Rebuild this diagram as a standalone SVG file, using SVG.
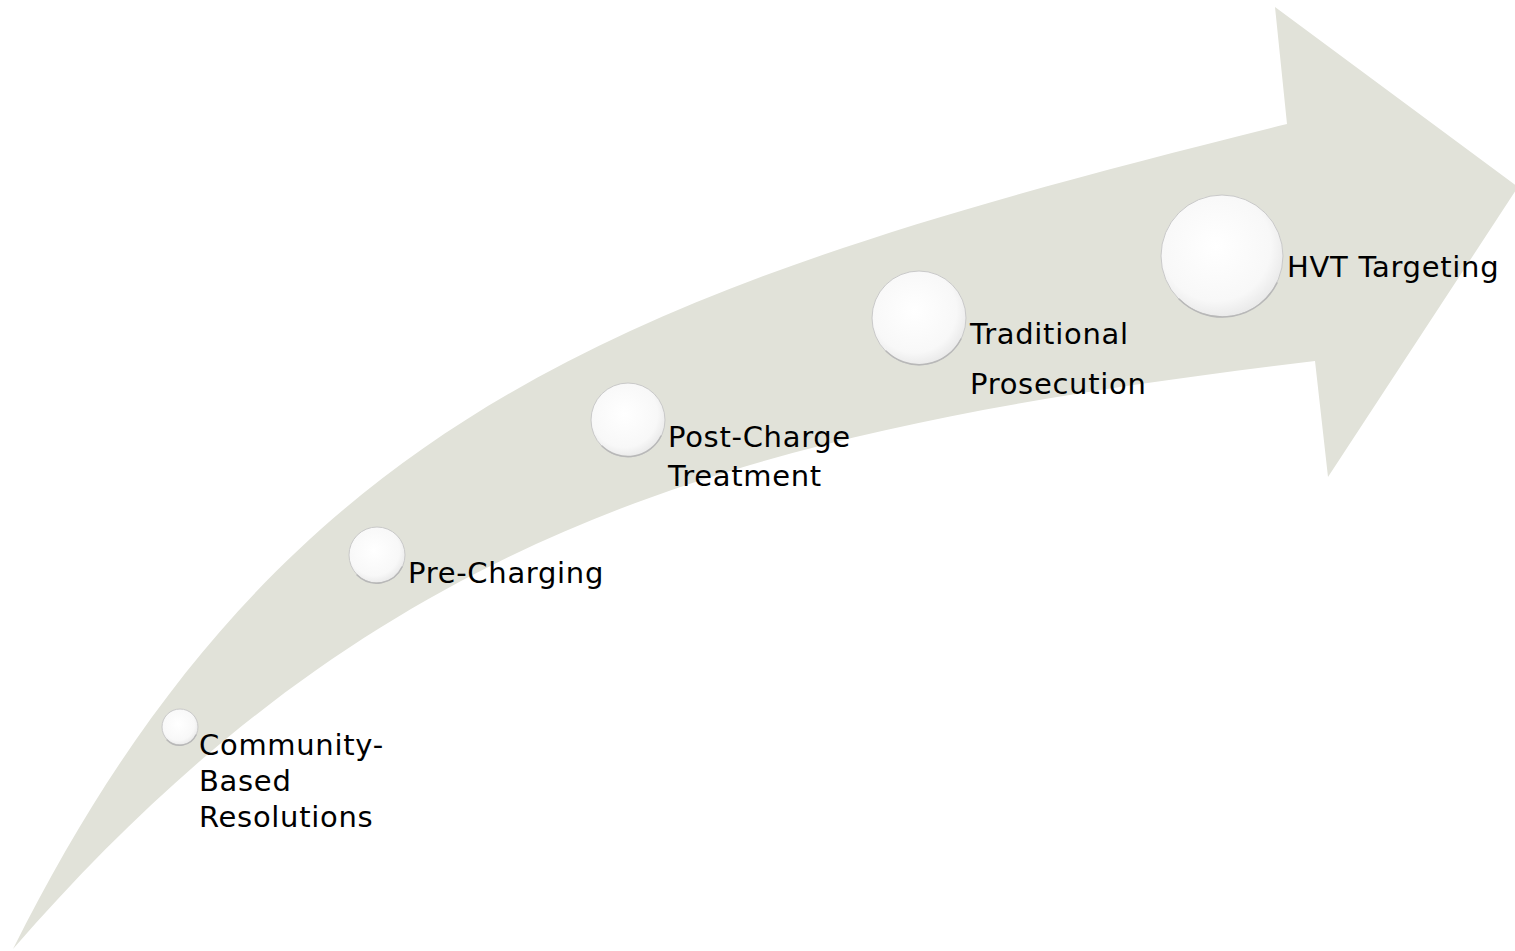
<svg xmlns="http://www.w3.org/2000/svg" width="1515" height="951" viewBox="0 0 1515 951">
  <defs>
    <radialGradient id="bub" cx="0.45" cy="0.42" r="0.6">
      <stop offset="0" stop-color="#ffffff"/>
      <stop offset="0.75" stop-color="#f8f8f8"/>
      <stop offset="1" stop-color="#e8e8e8"/>
    </radialGradient>
    <style>
      .arrow { fill: #e1e2d9; }
      .bubble { fill: url(#bub); stroke: #c9c9c9; stroke-width: 1; }
      .rim { fill: none; stroke: #b8b8b8; stroke-width: 1.5; stroke-linecap: round; }
      .label { font-family: "DejaVu Sans", "Liberation Sans", sans-serif; font-size: 29px; letter-spacing: 0.7px; fill: #000000; }
    </style>
  </defs>
  <rect x="0" y="0" width="1515" height="951" fill="#ffffff"/>
  <g id="arrow">
    <path class="arrow" d="M13,949 C283,409 637,285.5 1287,124 L1275,7 L1518,187 L1328,477 L1315,361 C745,429.4 383,523.5 13,949 Z"/>
  </g>
  <g id="connectors"></g>
  <g id="node-community">
    <circle class="bubble" cx="180" cy="727" r="18"/>
    <path class="rim" d="M167,740 A18,18 0 0 0 196,735"/>
    <text class="label"><tspan x="199" y="755">Community-</tspan><tspan x="199" y="791">Based</tspan><tspan x="199" y="827">Resolutions</tspan></text>
  </g>
  <g id="node-precharging">
    <circle class="bubble" cx="377" cy="555" r="28"/>
    <path class="rim" d="M357,575 A28,28 0 0 0 402,567"/>
    <text class="label" x="408" y="583">Pre-Charging</text>
  </g>
  <g id="node-postcharge">
    <circle class="bubble" cx="628" cy="420" r="37"/>
    <path class="rim" d="M602,446 A37,37 0 0 0 661,436"/>
    <text class="label"><tspan x="668" y="447">Post-Charge</tspan><tspan x="668" y="486">Treatment</tspan></text>
  </g>
  <g id="node-traditional">
    <circle class="bubble" cx="919" cy="318" r="47"/>
    <path class="rim" d="M886,351 A47,47 0 0 0 961,339"/>
    <text class="label"><tspan x="970" y="344">Traditional</tspan><tspan x="970" y="394">Prosecution</tspan></text>
  </g>
  <g id="node-hvt">
    <circle class="bubble" cx="1222" cy="256" r="61"/>
    <path class="rim" d="M1179,299 A61,61 0 0 0 1277,283"/>
    <text class="label" x="1287" y="277">HVT Targeting</text>
  </g>
</svg>
